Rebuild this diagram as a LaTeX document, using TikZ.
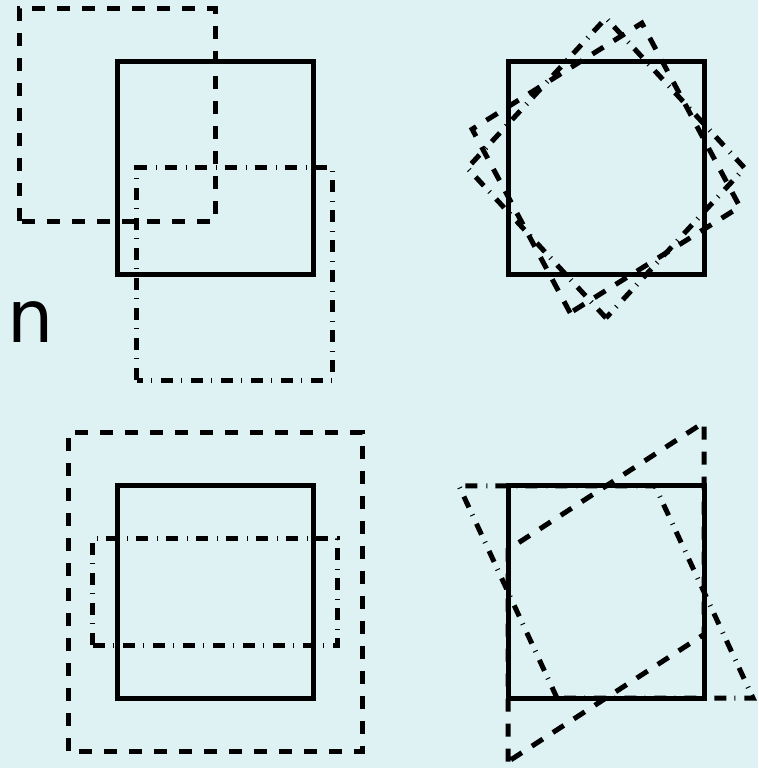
\documentclass[tikz,border=0pt]{standalone}
\usepackage{fontspec}
\newfontfamily\labelfont{DejaVu Sans}
\definecolor{bg}{RGB}{222,241,243}
\begin{document}
\begin{tikzpicture}[x=1pt,y=1pt,
  solidsq/.style={line width=5pt},
  dashsq/.style={line width=5pt, dash pattern=on 13pt off 12pt},
  dotdashsq/.style={line width=5pt, dash pattern=on 12pt off 9pt on 1pt off 8pt},
  panel/.style={yscale=1.082}]
\fill[bg] (0,0) rectangle (758,768);
\useasboundingbox (0,0) rectangle (758,768);
% top left: shift
\begin{scope}[shift={(215,600)}, panel]
  \draw[dashsq, shift={(-98,49)}] (-98,-98) rectangle (98,98);
  \draw[dotdashsq, shift={(19.6,-98)}] (-98,-98) rectangle (98,98);
  \draw[solidsq] (-98,-98) rectangle (98,98);
\end{scope}
\node[anchor=base west, inner sep=0pt, font=\labelfont\fontsize{73}{80}\selectfont] (lbl) at (7,425) {n};
% top right: rotate
\begin{scope}[shift={(606,600)}, panel]
  \draw[dashsq, rotate=30] (-98,-98) rectangle (98,98);
  \draw[dotdashsq, rotate=45] (-98,-98) rectangle (98,98);
  \draw[solidsq] (-98,-98) rectangle (98,98);
\end{scope}
% bottom left: scale
\begin{scope}[shift={(215,176)}, panel]
  \draw[dashsq, scale=1.5] (-98,-98) rectangle (98,98);
  \draw[dotdashsq, xscale=1.25, yscale=0.5] (-98,-98) rectangle (98,98);
  \draw[solidsq] (-98,-98) rectangle (98,98);
\end{scope}
% bottom right: slant
\begin{scope}[shift={(606,176)}, panel]
  \draw[dashsq, yslant=0.6] (-98,-98) rectangle (98,98);
  \draw[dotdashsq, xslant=-0.5] (-98,-98) rectangle (98,98);
  \draw[solidsq] (-98,-98) rectangle (98,98);
\end{scope}
\end{tikzpicture}
\end{document}
